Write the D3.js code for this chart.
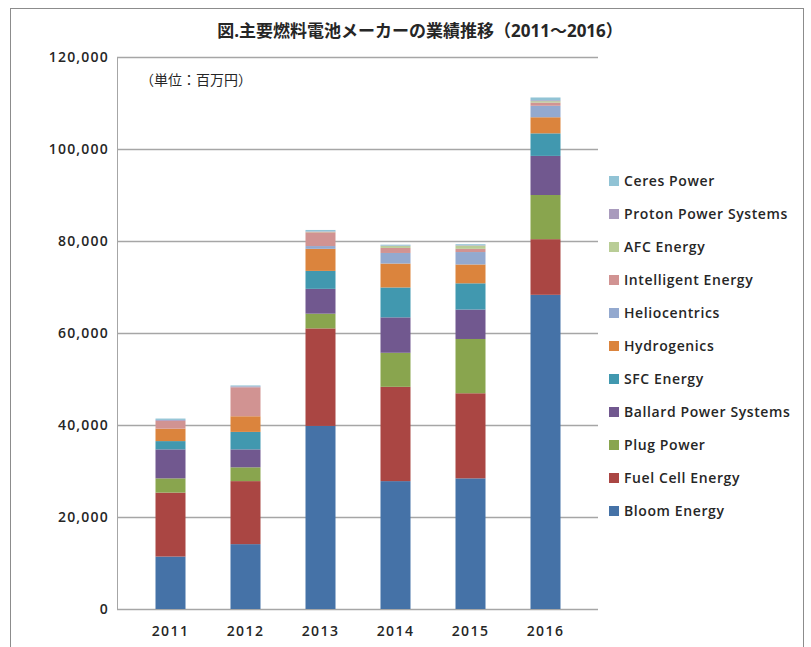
<!DOCTYPE html>
<html lang="ja">
<head>
<meta charset="UTF-8">
<title>主要燃料電池メーカーの業績推移</title>
<script src="https://d3js.org/d3.v7.min.js"></script>
<style>
  body { margin: 0; background: #fff; }
  text { font-family: "Open Sans", "Noto Sans CJK JP", sans-serif; fill: #262626; }
</style>
</head>
<body>
<svg width="811" height="647"></svg>
<script>
// 年
const years = ["2011", "2012", "2013", "2014", "2015", "2016"];
// 系列（下から順）
const companies = ["Bloom Energy", "Fuel Cell Energy", "Plug Power", "Ballard Power Systems",
  "SFC Energy", "Hydrogenics", "Heliocentrics", "Intelligent Energy", "AFC Energy",
  "Proton Power Systems", "Ceres Power"];
const colors = ["#4572A7", "#AA4643", "#89A54E", "#71588F", "#4198AF", "#DB843D",
  "#93A9CF", "#D19392", "#B9CD96", "#A99BBD", "#91C3D5"];

// 各社の売上（百万円）、2011〜2016
const bloom       = [11400, 14100, 39800, 27800, 28400, 68300];
const fuelCell    = [13900, 13700, 21200, 20500, 18500, 12100];
const plug        = [3100, 3000, 3200, 7400, 11800, 9600];
const ballard     = [6300, 3900, 5400, 7700, 6400, 8500];
const sfc         = [1800, 3800, 3900, 6500, 5700, 4900];
const hydrogenics = [2700, 3400, 4800, 5200, 4100, 3500];
const helio       = [0, 0, 600, 2300, 2700, 2500];
const intelligent = [1700, 6300, 3000, 1100, 700, 700];
const afc         = [0, 0, 100, 400, 700, 300];
const proton      = [200, 200, 100, 100, 100, 200];
const ceres       = [300, 200, 300, 200, 200, 600];

const yTicks = [0, 20000, 40000, 60000, 80000, 100000, 120000];

const seriesValues = [bloom, fuelCell, plug, ballard, sfc, hydrogenics, helio, intelligent, afc, proton, ceres];
const table = years.map((yr, i) => {
  const row = { year: yr };
  companies.forEach((c, k) => { row[c] = seriesValues[k][i]; });
  return row;
});

const svg = d3.select("svg");

// 外枠
svg.append("rect")
  .attr("x", 10.5).attr("y", 8.5)
  .attr("width", 793).attr("height", 660)
  .attr("fill", "none").attr("stroke", "#8c8c8c");

const x = d3.scaleBand().domain(years).range([133, 583]).paddingInner(0.6).paddingOuter(0.3);
const y = d3.scaleLinear().domain([0, 120000]).range([609, 57]);
const gridLeft = 117, gridRight = 598;

// グリッド線
svg.append("g").selectAll("line")
  .data(yTicks)
  .enter().append("line")
  .attr("x1", gridLeft).attr("x2", gridRight)
  .attr("y1", d => Math.round(y(d)) + 0.5).attr("y2", d => Math.round(y(d)) + 0.5)
  .attr("stroke", "#a6a6a6").attr("stroke-width", 1.5);

// 積み上げ
const stack = d3.stack().keys(companies);
const layers = stack(table);

svg.append("g").selectAll("g")
  .data(layers)
  .enter().append("g")
  .attr("fill", (d, i) => colors[i])
  .selectAll("rect")
  .data(d => d)
  .enter().append("rect")
  .attr("x", d => x(d.data.year))
  .attr("width", x.bandwidth())
  .attr("y", d => y(d[1]))
  .attr("height", d => y(d[0]) - y(d[1]));

// Y軸
const yAxis = svg.append("g")
  .attr("transform", "translate(" + gridLeft + ",0)")
  .call(d3.axisLeft(y).tickValues(yTicks).tickFormat(d3.format(",")).tickSize(0).tickPadding(8));
yAxis.select(".domain").attr("stroke", "#a6a6a6");
yAxis.selectAll("text").attr("font-size", 14).attr("font-weight", 600)
  .attr("letter-spacing", 1.2)
  .attr("font-family", "'Open Sans', sans-serif").attr("fill", "#262626");

// X軸
const xAxis = svg.append("g")
  .attr("transform", "translate(0,609)")
  .call(d3.axisBottom(x).tickSize(0).tickPadding(17));
xAxis.select(".domain").remove();
xAxis.selectAll("text").attr("font-size", 14).attr("font-weight", 600)
  .attr("letter-spacing", 1.4)
  .attr("font-family", "'Open Sans', sans-serif").attr("fill", "#262626");

// タイトル
svg.append("text")
  .attr("x", 420).attr("y", 37)
  .attr("text-anchor", "middle")
  .attr("font-family", "'Noto Sans CJK JP', sans-serif")
  .attr("font-size", 17).attr("font-weight", "bold")
  .text("図.主要燃料電池メーカーの業績推移（2011～2016）");

svg.append("text")
  .attr("x", 140).attr("y", 85)
  .attr("font-family", "'Noto Sans CJK JP', sans-serif")
  .attr("font-size", 14)
  .text("（単位：百万円）");

// 凡例
const legendY = d3.scalePoint().domain(companies.slice().reverse()).range([181, 511]);
const legend = svg.append("g").selectAll("g")
  .data(companies)
  .enter().append("g")
  .attr("transform", d => "translate(609," + legendY(d) + ")");
legend.append("rect")
  .attr("x", 0).attr("y", -5).attr("width", 10).attr("height", 10)
  .attr("fill", (d, i) => colors[i]);
legend.append("text")
  .attr("x", 15).attr("dy", "0.35em")
  .attr("font-size", 14).attr("font-weight", 600)
  .attr("letter-spacing", 0.6)
  .text(d => d);
</script>
</body>
</html>
